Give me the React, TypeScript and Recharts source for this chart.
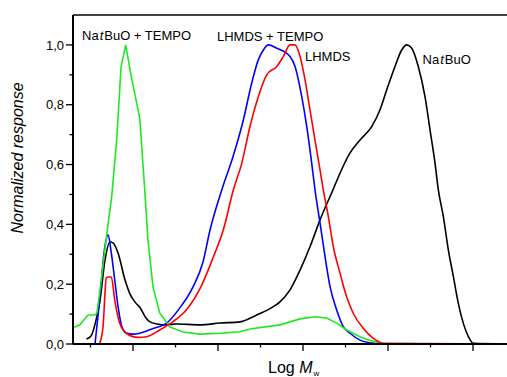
import { LineChart, Line, XAxis, YAxis, ReferenceLine } from 'recharts';

// Na t-BuO + TEMPO (green)
const tBuTempoLogM = [1.294, 1.341, 1.376, 1.471, 1.553, 1.576, 1.612, 1.690, 1.749, 1.808, 1.859, 1.914, 1.980, 2.079, 2.138, 2.176, 2.235, 2.314, 2.432, 2.588, 2.788, 3.024, 3.259, 3.376, 3.729, 3.847, 3.965, 4.141, 4.279, 4.396, 4.514, 4.671, 4.788, 4.941];
const tBuTempoResp = [0.054, 0.060, 0.064, 0.097, 0.097, 0.104, 0.180, 0.365, 0.492, 0.682, 0.926, 1.000, 0.893, 0.756, 0.515, 0.348, 0.191, 0.104, 0.057, 0.040, 0.033, 0.036, 0.041, 0.050, 0.064, 0.074, 0.084, 0.091, 0.087, 0.070, 0.047, 0.024, 0.012, 0.002];

// Na t-BuO (black)
const tBuLogM = [1.453, 1.506, 1.565, 1.612, 1.671, 1.729, 1.765, 1.824, 1.906, 1.965, 2.024, 2.082, 2.153, 2.200, 2.282, 2.388, 2.506, 2.788, 3.024, 3.259, 3.455, 3.651, 3.729, 3.847, 3.965, 4.082, 4.200, 4.356, 4.435, 4.553, 4.671, 4.808, 4.906, 4.985, 5.082, 5.161, 5.220, 5.279, 5.356, 5.435, 5.494, 5.553, 5.592, 5.651, 5.710, 5.769, 5.827, 5.886, 5.945, 6.004, 6.435];
const tBuResp = [0.017, 0.027, 0.080, 0.147, 0.281, 0.341, 0.338, 0.304, 0.214, 0.167, 0.140, 0.122, 0.087, 0.074, 0.067, 0.064, 0.067, 0.064, 0.070, 0.074, 0.097, 0.125, 0.141, 0.181, 0.247, 0.325, 0.415, 0.518, 0.571, 0.639, 0.682, 0.727, 0.783, 0.850, 0.928, 0.983, 1.000, 0.989, 0.928, 0.827, 0.716, 0.605, 0.515, 0.426, 0.314, 0.225, 0.136, 0.069, 0.025, 0.002, 0];

// LHMDS + TEMPO (blue)
const lhmdsTempoLogM = [1.553, 1.608, 1.667, 1.706, 1.745, 1.785, 1.824, 1.867, 1.918, 2.000, 2.079, 2.235, 2.392, 2.549, 2.706, 2.824, 2.906, 3.044, 3.176, 3.298, 3.396, 3.474, 3.533, 3.592, 3.691, 3.847, 3.906, 3.985, 4.044, 4.102, 4.141, 4.200, 4.259, 4.318, 4.396, 4.474, 4.553, 4.671, 4.827, 4.941];
const lhmdsTempoResp = [0.000, 0.147, 0.321, 0.365, 0.304, 0.214, 0.125, 0.060, 0.037, 0.033, 0.036, 0.052, 0.069, 0.120, 0.191, 0.275, 0.381, 0.515, 0.626, 0.749, 0.872, 0.950, 0.983, 1.000, 0.989, 0.961, 0.928, 0.827, 0.727, 0.605, 0.515, 0.405, 0.292, 0.192, 0.114, 0.058, 0.036, 0.013, 0.002, 0.000];

// LHMDS (red)
const lhmdsLogM = [1.606, 1.647, 1.686, 1.706, 1.745, 1.785, 1.844, 1.921, 2.059, 2.156, 2.314, 2.471, 2.627, 2.800, 2.945, 3.062, 3.180, 3.279, 3.376, 3.474, 3.573, 3.691, 3.768, 3.847, 3.906, 3.965, 4.024, 4.082, 4.141, 4.200, 4.239, 4.298, 4.356, 4.435, 4.514, 4.592, 4.710, 4.827, 4.945, 6.435];
const lhmdsResp = [0.000, 0.057, 0.221, 0.224, 0.224, 0.147, 0.069, 0.036, 0.022, 0.024, 0.047, 0.075, 0.114, 0.192, 0.291, 0.381, 0.515, 0.604, 0.727, 0.827, 0.900, 0.928, 0.961, 1.000, 1.000, 0.961, 0.883, 0.783, 0.682, 0.582, 0.515, 0.426, 0.326, 0.237, 0.157, 0.102, 0.052, 0.019, 0.002, 0];

const yTicks = [0, 0.1, 0.2, 0.3, 0.4, 0.5, 0.6, 0.7, 0.8, 0.9, 1.0];
const xTicks = [1.5, 2, 2.5, 3, 3.5, 4, 4.5, 5, 5.5, 6];

const toPoints = (xs: number[], ys: number[]) => xs.map((x, i) => ({ x, y: ys[i] }));

const FONT = '"Liberation Sans", Arial, sans-serif';

function YTick({ x, y, payload }: any) {
  const major = Math.round(payload.value * 10) % 2 === 0;
  return (
    <g>
      <line x1={x} x2={x - (major ? 7 : 3.5)} y1={y} y2={y} stroke="#000" strokeWidth={1.3} />
      {major && (
        <text x={x - 9} y={y} dy="0.36em" textAnchor="end" fontSize={13} fill="#000" fontFamily={FONT}>
          {payload.value.toFixed(1).replace('.', ',')}
        </text>
      )}
    </g>
  );
}

function XTick({ x, y, payload }: any) {
  const major = Number.isInteger(payload.value);
  return <line x1={x} x2={x} y1={y} y2={y + (major ? 7 : 3.5)} stroke="#000" strokeWidth={1.3} />;
}

export default function App() {
  return (
    <div style={{ position: 'absolute', left: 0, top: 0, width: 507, height: 377, overflow: 'hidden', background: '#fff', fontFamily: FONT }}>
      <LineChart width={515} height={377} margin={{ top: 15, right: 5, bottom: 0, left: 0 }}>
        <XAxis
          type="number"
          dataKey="x"
          domain={[1.294, 6.435]}
          allowDataOverflow
          ticks={xTicks}
          interval={0}
          tick={<XTick />}
          tickLine={false}
          tickSize={0}
          tickMargin={0}
          height={33}
          axisLine={{ stroke: '#000', strokeWidth: 2 }}
        />
        <YAxis
          type="number"
          dataKey="y"
          domain={[0, 1.1]}
          allowDataOverflow
          ticks={yTicks}
          interval={0}
          tick={<YTick />}
          tickLine={false}
          tickSize={0}
          tickMargin={0}
          width={73}
          axisLine={{ stroke: '#000', strokeWidth: 2 }}
        />
        <ReferenceLine y={1.1} stroke="#000" strokeWidth={1.5} />
        <Line data={toPoints(tBuLogM, tBuResp)} dataKey="y" type="monotone" stroke="#000" strokeWidth={1.6} dot={false} isAnimationActive={false} />
        <Line data={toPoints(lhmdsTempoLogM, lhmdsTempoResp)} dataKey="y" type="monotone" stroke="#0000ff" strokeWidth={1.6} dot={false} isAnimationActive={false} />
        <Line data={toPoints(tBuTempoLogM, tBuTempoResp)} dataKey="y" type="linear" stroke="#1fe81f" strokeWidth={1.6} dot={false} isAnimationActive={false} />
        <Line data={toPoints(lhmdsLogM, lhmdsResp)} dataKey="y" type="monotone" stroke="#ff0000" strokeWidth={1.6} dot={false} isAnimationActive={false} />
      </LineChart>
      <svg width={507} height={377} style={{ position: 'absolute', left: 0, top: 0, pointerEvents: 'none' }}>
        <g fontFamily={FONT} fill="#000">
          <text x={22.5} y={158} fontSize={16} fontStyle="italic" textAnchor="middle" transform="rotate(-90 22.5 158)">
            Normalized response
          </text>
          <text x={268} y={373} fontSize={16}>
            Log <tspan fontStyle="italic">M</tspan>
            <tspan fontSize={8} dy={2.5} dx={1}>w</tspan>
          </text>
          <text x={82} y={40} fontSize={13}>
            Na<tspan fontStyle="italic" dx={1}>t</tspan><tspan dx={1}>BuO + TEMPO</tspan>
          </text>
          <text x={217} y={41} fontSize={13}>LHMDS + TEMPO</text>
          <text x={305} y={60.5} fontSize={13}>LHMDS</text>
          <text x={422.5} y={64} fontSize={13}>
            Na<tspan fontStyle="italic" dx={1}>t</tspan><tspan dx={1}>BuO</tspan>
          </text>
        </g>
      </svg>
    </div>
  );
}
